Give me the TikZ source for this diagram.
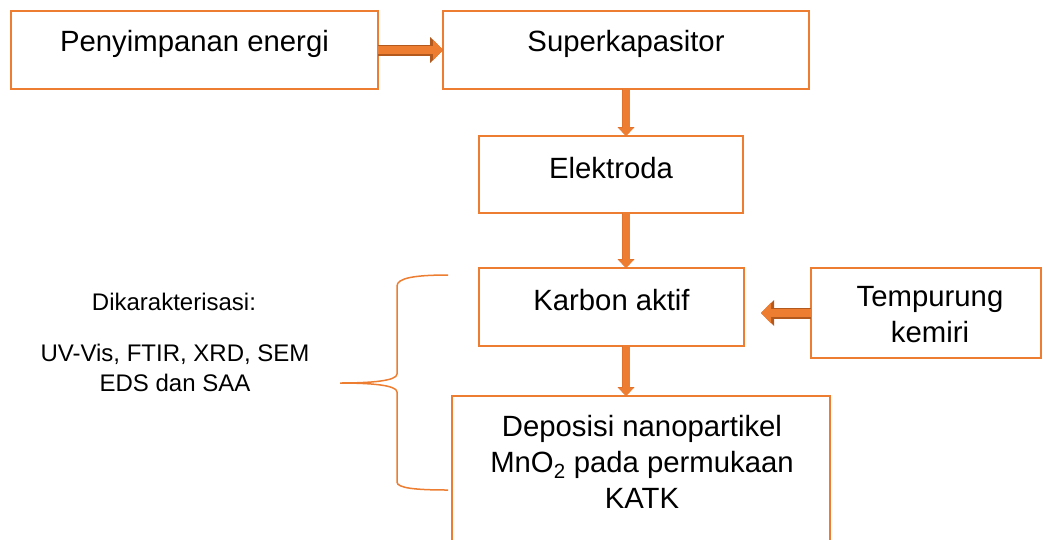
\documentclass[tikz,border=0pt]{standalone}
\usepackage{fontspec}
\setmainfont{Liberation Sans}
\usetikzlibrary{arrows.meta}
\definecolor{oranye}{HTML}{ED7D31}
\definecolor{oranyetua}{HTML}{B4591D}
\definecolor{oranyemuda}{HTML}{E2722A}

\begin{document}
\begin{tikzpicture}[x=1pt, y=-1pt,
        kotak/.style={rectangle, draw=oranye, line width=2.5pt, inner sep=0pt, outer sep=0pt},
        teks/.style={font=\fontsize{29.3}{36}\selectfont, align=center},
        tekskecil/.style={font=\fontsize{24}{30}\selectfont, align=center},
        panahbesar/.style={draw=oranye, line width=8pt, -{Triangle[length=10pt, width=21pt, line width=0pt]},
            preaction={draw=oranyetua, line width=11pt, -{Triangle[length=13pt, width=26pt, line width=0pt]}}},
        panahkecil/.style={draw=oranye, line width=7pt, -{Triangle[length=8pt, width=15pt, line width=0pt]},
            preaction={draw=oranyemuda, line width=8.5pt, -{Triangle[length=9pt, width=17pt, line width=0pt]}}},
        kurung/.style={draw=oranye, line width=1.5pt}]

        \useasboundingbox (0,0) rectangle (1044,539);

        % Kotak
        \node[kotak, minimum width=367pt, minimum height=78pt] (penyimpanan) at (194.5,50) {};
        \node[kotak, minimum width=366pt, minimum height=78pt] (superkapasitor) at (626,50) {};
        \node[kotak, minimum width=264pt, minimum height=77pt] (elektroda) at (611,174.5) {};
        \node[kotak, minimum width=265pt, minimum height=78pt] (karbon) at (611.5,307) {};
        \node[kotak, minimum width=230pt, minimum height=90pt] (tempurung) at (926,313) {};
        \node[kotak, minimum width=378pt, minimum height=170pt] (deposisi) at (641,481) {};

        % Teks
        \node[teks] (penyimpananteks) at (194.5,44) {Penyimpanan energi};
        \node[teks] (superkapasitorteks) at (626,44) {Superkapasitor};
        \node[teks] (elektrodateks) at (611,168) {Elektroda};
        \node[teks] (karbonteks) at (611.5,300) {Karbon aktif};
        \node[teks] (tempurungteks) at (930,315) {Tempurung\\kemiri};
        \node[teks] (deposisiteks) at (642,462) {Deposisi nanopartikel\\MnO\textsubscript{2} pada permukaan\\KATK};
        \node[tekskecil] (dikarakterisasi) at (174,302) {Dikarakterisasi:};
        \node[tekskecil] (metode) at (175,368) {UV-Vis, FTIR, XRD, SEM\\EDS dan SAA};

        % Panah
        \draw[panahbesar] (penyimpanan) -- (superkapasitor);
        \draw[panahkecil] (superkapasitor.south) -- (superkapasitor.south |- elektroda.north);
        \draw[panahkecil] (superkapasitor.south |- elektroda.south) -- (superkapasitor.south |- karbon.north);
        \draw[panahkecil] (superkapasitor.south |- karbon.south) -- (superkapasitor.south |- deposisi.north);
        \draw[panahbesar, shorten >=17pt] (tempurung.west) -- (karbon.east |- tempurung.west);

        % Kurung kurawal
        \draw[kurung] (448,275) .. controls (415,275) and (397,278) .. (397,286) -- (397,374)
            .. controls (397,381) and (370,383) .. (340,383)
            .. controls (370,383) and (397,385) .. (397,392) -- (397,482)
            .. controls (397,488) and (415,490) .. (448,490);
    \end{tikzpicture}
\end{document}
